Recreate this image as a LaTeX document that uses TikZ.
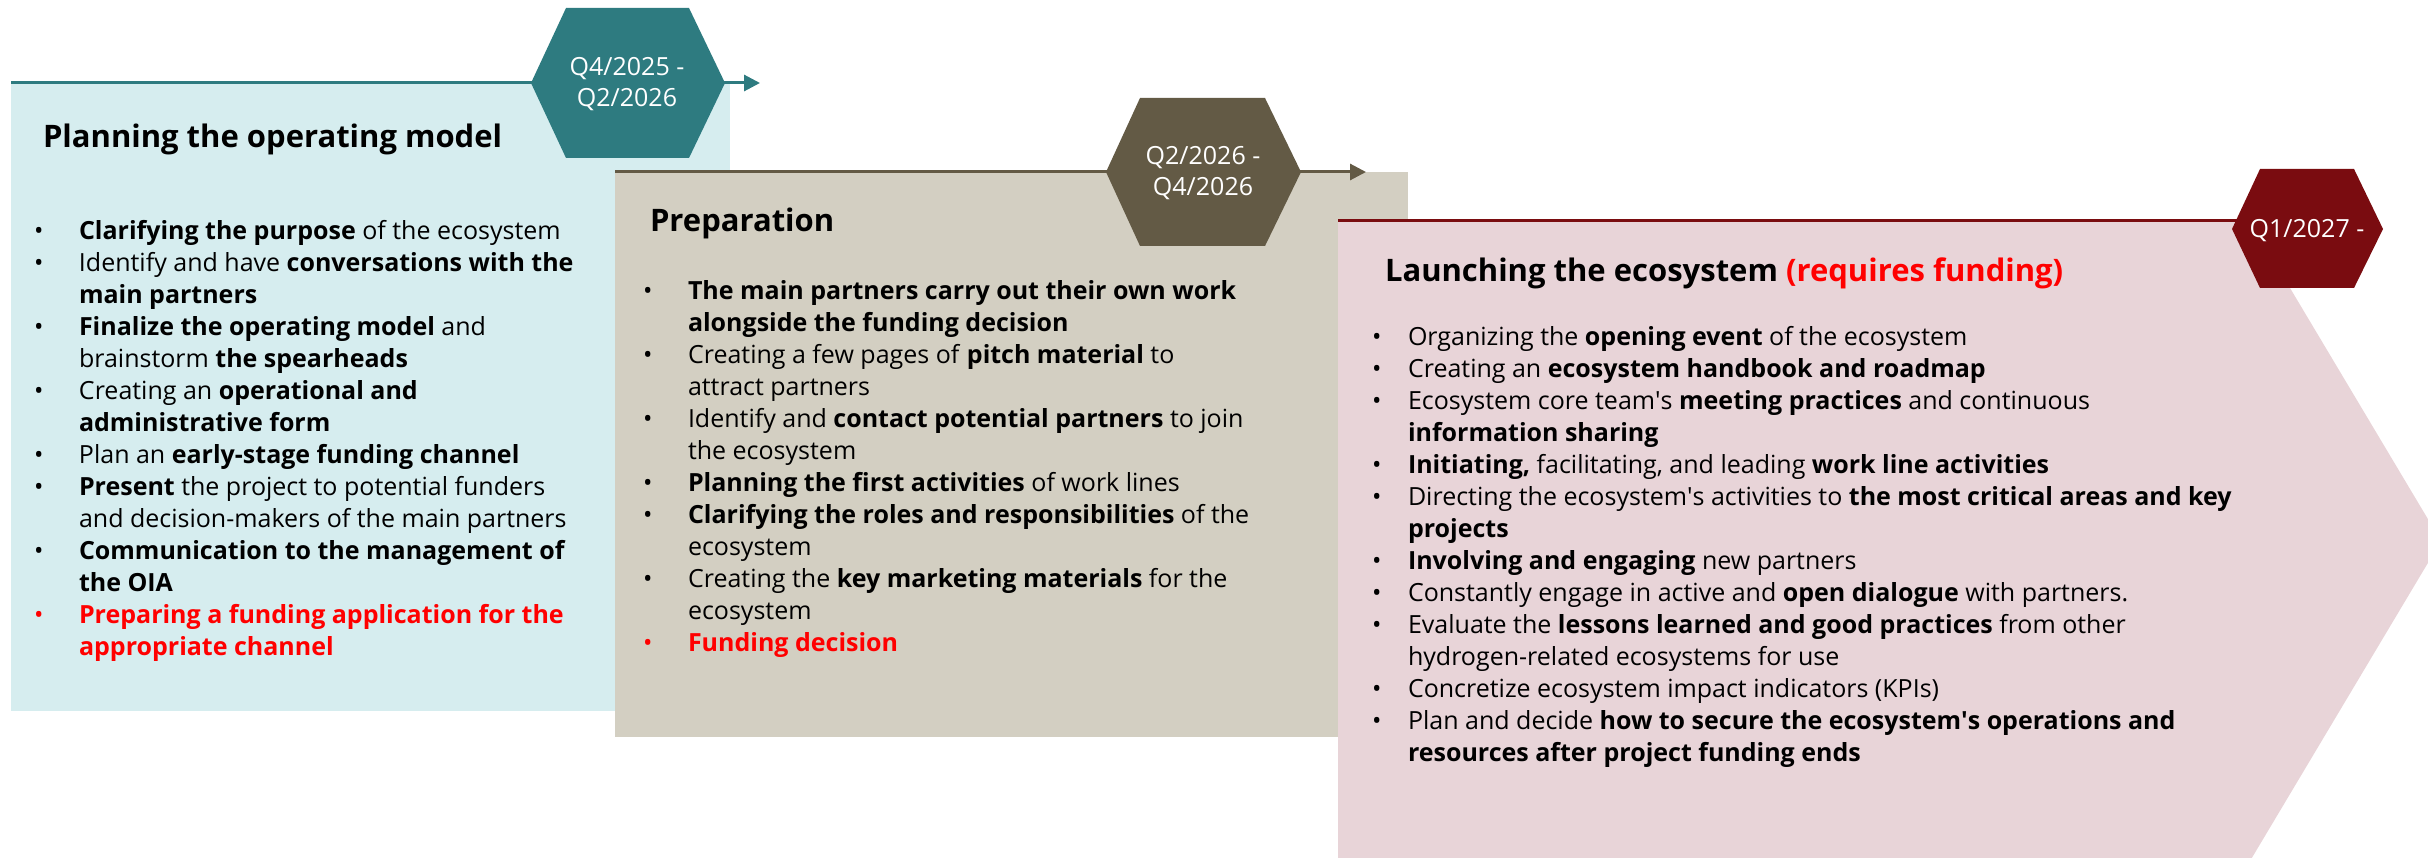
\documentclass[tikz,border=0pt]{standalone}
\usepackage{fontspec}
\setmainfont{Open Sans}
\usetikzlibrary{arrows.meta}
\definecolor{tealc}{HTML}{2E7B80}
\definecolor{bluebg}{HTML}{D6EDEF}
\definecolor{brownc}{HTML}{635A45}
\definecolor{tanbg}{HTML}{D3CFC2}
\definecolor{redc}{HTML}{7A0C10}
\definecolor{pinkbg}{HTML}{E8D4D8}
\definecolor{alertc}{HTML}{FF0000}
\newcommand{\bodyfont}{\fontsize{25}{32}\selectfont}
\newcommand{\ttlfont}{\fontsize{31}{36}\selectfont\bfseries}
\newcommand{\qfont}{\fontsize{25}{31}\selectfont}
\newcommand{\bu}{\textbullet}
\newcommand{\rbu}{\leavevmode{\color{alertc}\textbullet}}
\newcommand{\apo}{\textquotesingle}
\tikzset{
  phaseline/.style={line width=3pt, -{Triangle[length=16pt,width=16pt]}},
  txt/.style={anchor=base west, inner sep=0pt, outer sep=0pt},
  qtxt/.style={align=center, text=white, font=\qfont, inner sep=0pt}
}
\begin{document}
\begin{tikzpicture}[x=1pt,y=-1pt]
\useasboundingbox (0,0) rectangle (2428,858);
\begin{scope}
\clip (0,0) rectangle (2428,858);
% ---------- phase 1
\fill[bluebg] (11,83) rectangle (730,711);
\coordinate (l1s) at (11,83);
\coordinate (l1e) at (760,83);
\draw[phaseline, tealc] (l1s) -- (l1e);
\fill[tealc] (531,83) -- (566,8) -- (689,8) -- (725,83) -- (689,158) -- (566,158) -- cycle;
\node[qtxt] (q1) at (627,84) {Q4/2025 -\\Q2/2026};
% ---------- phase 2
\fill[tanbg] (615,172) rectangle (1408,737);
\coordinate (l2s) at (615,172);
\coordinate (l2e) at (1366,172);
\draw[phaseline, brownc] (l2s) -- (l2e);
\fill[brownc] (1106,172) -- (1140,98) -- (1265,98) -- (1301,172) -- (1265,246) -- (1140,246) -- cycle;
\node[qtxt] (q2) at (1203,173) {Q2/2026 -\\Q4/2026};
% ---------- phase 3
\fill[pinkbg] (1338,221) -- (2250,221) -- (2441,541) -- (2250,861) -- (1338,861) -- cycle;
\coordinate (l3s) at (1338,221);
\coordinate (l3e) at (2300,221);
\draw[line width=3pt, redc] (l3s) -- (l3e);
\fill[redc] (2232,229) -- (2260,169) -- (2354,169) -- (2383,229) -- (2354,288) -- (2260,288) -- cycle;
\node[qtxt] (q3) at (2307,231) {Q1/2027 -};
\end{scope}
% ---------- titles
\node[txt] (h1) at (43,148) {\ttlfont Planning the operating model};
\node[txt] (h2) at (650,232) {\ttlfont Preparation};
\node[txt] (h3) at (1385,282) {\ttlfont Launching the ecosystem {\color{alertc}(requires funding)}};
% ---------- lists
\node[txt] (b1) at (34,240) {\bodyfont\begin{tabular}[t]{@{}p{45pt}@{}l@{}}
\bu & \textbf{Clarifying the purpose} of the ecosystem\\
\bu & Identify and have \textbf{conversations with the}\\
    & \textbf{main partners}\\
\bu & \textbf{Finalize the operating model} and\\
    & brainstorm \textbf{the spearheads}\\
\bu & Creating an \textbf{operational and}\\
    & \textbf{administrative form}\\
\bu & Plan an \textbf{early-stage funding channel}\\
\bu & \textbf{Present} the project to potential funders\\
    & and decision-makers of the main partners\\
\bu & \textbf{Communication to the management of}\\
    & \textbf{the OIA}\\
\rbu & \color{alertc}\bfseries Preparing a funding application for the\\
    & \color{alertc}\bfseries appropriate channel
\end{tabular}};
\node[txt] (b2) at (643,300) {\bodyfont\begin{tabular}[t]{@{}p{45pt}@{}l@{}}
\bu & \textbf{The main partners carry out their own work}\\
    & \textbf{alongside the funding decision}\\
\bu & Creating a few pages of \textbf{pitch material} to\\
    & attract partners\\
\bu & Identify and \textbf{contact potential partners} to join\\
    & the ecosystem\\
\bu & \textbf{Planning the first activities} of work lines\\
\bu & \textbf{Clarifying the roles and responsibilities} of the\\
    & ecosystem\\
\bu & Creating the \textbf{key marketing materials} for the\\
    & ecosystem\\
\rbu & \color{alertc}\bfseries Funding decision
\end{tabular}};
\node[txt] (b3) at (1372,346) {\bodyfont\begin{tabular}[t]{@{}p{36pt}@{}l@{}}
\bu & Organizing the \textbf{opening event} of the ecosystem\\
\bu & Creating an \textbf{ecosystem handbook and roadmap}\\
\bu & Ecosystem core team\apo s \textbf{meeting practices} and continuous\\
    & \textbf{information sharing}\\
\bu & \textbf{Initiating,} facilitating, and leading \textbf{work line activities}\\
\bu & Directing the ecosystem\apo s activities to \textbf{the most critical areas and key}\\
    & \textbf{projects}\\
\bu & \textbf{Involving and engaging} new partners\\
\bu & Constantly engage in active and \textbf{open dialogue} with partners.\\
\bu & Evaluate the \textbf{lessons learned and good practices} from other\\
    & hydrogen-related ecosystems for use\\
\bu & Concretize ecosystem impact indicators (KPIs)\\
\bu & Plan and decide \textbf{how to secure the ecosystem\apo s operations and}\\
    & \textbf{resources after project funding ends}
\end{tabular}};
\end{tikzpicture}
\end{document}
